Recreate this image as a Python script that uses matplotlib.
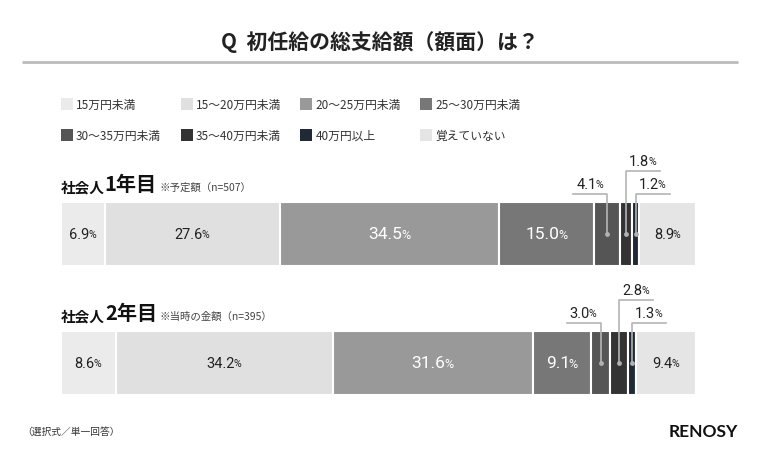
import matplotlib.pyplot as plt
from matplotlib.patches import Rectangle
import numpy as np

plt.rcParams['font.family'] = ['Noto Sans CJK JP', 'DejaVu Sans']

categories = ['15万円未満', '15〜20万円未満', '20〜25万円未満', '25〜30万円未満',
              '30〜35万円未満', '35〜40万円未満', '40万円以上', '覚えていない']
colors = ['#ebebeb', '#e0e0e0', '#999999', '#777777',
          '#555555', '#333333', '#1f2a36', '#e5e5e5']
rows = ['社会人1年目', '社会人2年目']
row_notes = ['※予定額（n=507）', '※当時の金額（n=395）']
year1 = [6.9, 27.6, 34.5, 15.0, 4.1, 1.8, 1.2, 8.9]
year2 = [8.6, 34.2, 31.6, 9.1, 3.0, 2.8, 1.3, 9.4]
values = [year1, year2]

# callout style for the thin segments: (side, level)
callouts = {4: ('left', 'low'), 5: ('right', 'high'), 6: ('right', 'low')}

W, H = 760, 456
X0, X1 = 61, 696
scale = (X1 - X0) / 100.0

fig = plt.figure(figsize=(W / 100, H / 100), dpi=100)
ax = fig.add_axes([0, 0, 1, 1])
ax.set_xlim(-X0 / scale, (W - X0) / scale)
ax.set_ylim(H, 0)
ax.axis('off')

def px(x):
    return (x - X0) / scale

# title
fig.text(380 / W, 1 - 42 / H, 'Q  初任給の総支給額（額面）は？', ha='center', va='center',
         fontsize=15, fontweight='bold', color='#222222')
ax.plot([px(22), px(738)], [63, 63], color='#bbbbbb', lw=2, solid_capstyle='butt')

# legend
for i, (cat, c) in enumerate(zip(categories, colors)):
    lx = 61 + (i % 4) * 119.7
    ly = 105 + (i // 4) * 31
    ax.add_patch(Rectangle((px(lx), ly - 6), 12 / scale, 12, color=c, lw=0))
    ax.text(px(lx + 15), ly, cat, ha='left', va='center', fontsize=8.5, color='#333333')

bar_y = [235, 364]
bar_h = 64
pct_texts = []

for r, (name, note, vals) in enumerate(zip(rows, row_notes, values)):
    yc = bar_y[r]
    top = yc - bar_h / 2
    # row heading
    hy = top - 17
    t1 = ax.text(0, hy + 6, name[:3], ha='left', va='baseline', fontsize=10.5,
                 fontweight='bold', color='#111111')
    t2 = ax.annotate(name[3:], xy=(1, 0), xycoords=t1, xytext=(0, 0),
                     textcoords='offset points', ha='left', va='bottom',
                     fontsize=14.5, fontweight='bold', color='#111111')
    ax.annotate(note, xy=(1, 0), xycoords=t2, xytext=(2, 1.5),
                textcoords='offset points', ha='left', va='bottom',
                fontsize=7.5, color='#444444')

    lefts = np.concatenate([[0], np.cumsum(vals)[:-1]])
    ax.barh(yc, vals, left=lefts, height=bar_h, color=colors,
            edgecolor='white', linewidth=1.5)

    for i, (v, l) in enumerate(zip(vals, lefts)):
        xc = l + v / 2
        if i in callouts:
            side, level = callouts[i]
            ly = top - 8 if level == 'low' else top - 31
            length = 34 / scale
            x_end = xc - length if side == 'left' else xc + length
            ax.plot(xc, yc, 'o', color='#b0b0b0', ms=3.5, mec='none')
            ax.plot([xc, xc, x_end], [yc, ly, ly], color='#b4b4b4', lw=1.2)
            pct_texts.append((ax, (xc + x_end) / 2, ly - 10, v, '#222222', 10.5))
        else:
            if i in (2, 3):
                pct_texts.append((ax, xc, yc, v, 'white', 12.5))
            else:
                pct_texts.append((ax, xc, yc, v, '#222222', 10.5))

# number + smaller % sign, centred as a pair
pairs = []
for a, x, y, v, c, fs in pct_texts:
    n = a.annotate('%.1f' % v, xy=(x, y), xytext=(0, 0), textcoords='offset pixels',
                   ha='right', va='center', fontsize=fs, color=c,
                   family=['Roboto', 'DejaVu Sans'])
    p = a.annotate('%', xy=(x, y), xytext=(0, 0), textcoords='offset pixels',
                   ha='left', va='center', fontsize=fs * 0.72, color=c,
                   family=['Roboto', 'DejaVu Sans'])
    pairs.append((n, p))

fig.canvas.draw()
r = fig.canvas.get_renderer()
for n, p in pairs:
    w1 = n.get_window_extent(r).width
    w2 = p.get_window_extent(r).width
    dx = (w1 - w2) / 2
    n.xyann = (dx, 0)
    p.xyann = (dx - 1, -0.5)

# footer
fig.text(22 / W, 1 - 432 / H, '（選択式／単一回答）', ha='left', va='center',
         fontsize=7, color='#333333')
fig.text(738 / W, 1 - 432 / H, 'RENOSY', ha='right', va='center',
         fontsize=12.5, fontweight='bold', color='#111111', family=['Lato', 'DejaVu Sans'])

fig.savefig('out.png', dpi=100)
